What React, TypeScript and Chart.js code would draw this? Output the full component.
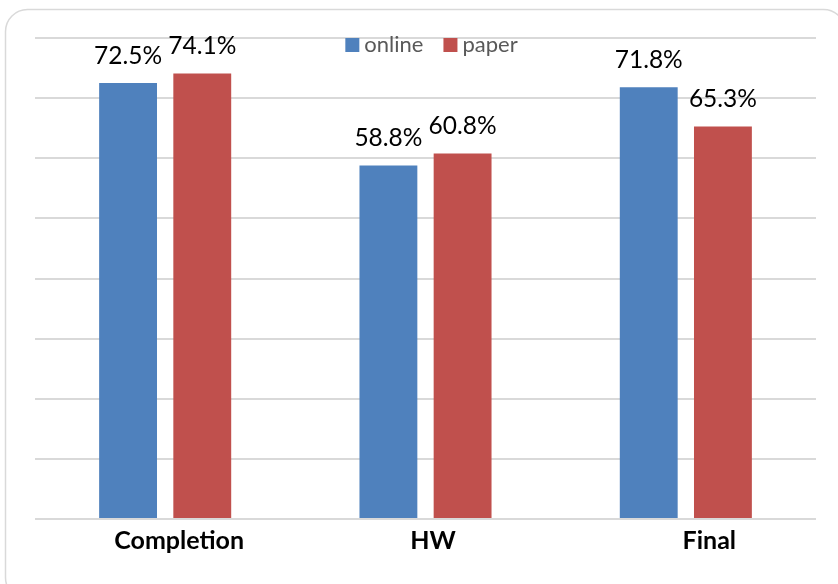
import React, { useEffect, useRef } from "react";
import { Chart, registerables } from "chart.js";

Chart.register(...registerables);

const categories = ["Completion", "HW", "Final"];
const seriesNames = ["online", "paper"];
const onlineValues = [72.5, 58.8, 71.8];
const paperValues = [74.1, 60.8, 65.3];
const seriesColors = ["#4f81bd", "#c0504d"];
const yMin = 0;
const yMax = 80;
const yStep = 10;
const labelOffsets = [14, 7.5, 23.5];

const W = 838;
const H = 584;

const framePlugin = {
  id: "frame",
  beforeDraw(chart: any) {
    const ctx = chart.ctx;
    ctx.save();
    ctx.fillStyle = "#ffffff";
    ctx.fillRect(0, 0, chart.width, chart.height);
    ctx.beginPath();
    ctx.strokeStyle = "#d9d9d9";
    ctx.lineWidth = 1.5;
    ctx.roundRect(5.5, 9.5, 840, 590, 22);
    ctx.stroke();
    ctx.restore();
  },
};

const labelsPlugin = {
  id: "customLabels",
  afterDatasetsDraw(chart: any) {
    const ctx = chart.ctx;
    ctx.save();
    // value labels
    ctx.font = "24.5px Lato";
    ctx.fillStyle = "#000000";
    ctx.textAlign = "center";
    ctx.textBaseline = "alphabetic";
    chart.data.datasets.forEach((ds: any, di: number) => {
      const meta = chart.getDatasetMeta(di);
      meta.data.forEach((bar: any, i: number) => {
        const v = ds.data[i];
        ctx.fillText(v.toFixed(1) + "%", bar.x, bar.y - 19);
      });
    });
    // category labels
    const xs = chart.scales.x;
    ctx.font = "bold 25px Lato";
    chart.data.labels.forEach((lab: string, i: number) => {
      ctx.fillText(lab, xs.getPixelForValue(i) + labelOffsets[i], 549);
    });
    // legend
    ctx.font = "22px Lato";
    ctx.textAlign = "left";
    const box = 14;
    const gap = 5;
    const spacing = 20;
    const widths = chart.data.datasets.map((d: any) => ctx.measureText(d.label).width);
    let total = 0;
    widths.forEach((w: number, i: number) => {
      total += box + gap + w + (i < widths.length - 1 ? spacing : 0);
    });
    let x = 431.5 - total / 2;
    chart.data.datasets.forEach((d: any, i: number) => {
      ctx.fillStyle = d.backgroundColor;
      ctx.fillRect(x, 38, box, box);
      x += box + gap;
      ctx.fillStyle = "#595959";
      ctx.fillText(d.label, x, 52);
      x += widths[i] + spacing;
    });
    ctx.restore();
  },
};

export default function App() {
  const ref = useRef<HTMLCanvasElement | null>(null);

  useEffect(() => {
    document.body.style.margin = "0";
    document.body.style.overflow = "hidden";
    let chart: Chart | null = null;
    let cancelled = false;
    const make = () => {
      if (cancelled || !ref.current) return;
      chart = new Chart(ref.current, {
        type: "bar",
        data: {
          labels: categories,
          datasets: [
            {
              label: seriesNames[0],
              data: onlineValues,
              backgroundColor: seriesColors[0],
              categoryPercentage: 0.57,
              barPercentage: 0.78,
            },
            {
              label: seriesNames[1],
              data: paperValues,
              backgroundColor: seriesColors[1],
              categoryPercentage: 0.57,
              barPercentage: 0.78,
            },
          ],
        },
        options: {
          responsive: false,
          animation: false,
          layout: { padding: { left: 35, right: 22, top: 38, bottom: 65 } },
          plugins: {
            legend: { display: false },
            tooltip: { enabled: false },
          },
          scales: {
            x: {
              display: false,
            },
            y: {
              min: yMin,
              max: yMax,
              ticks: { display: false, stepSize: yStep },
              border: { display: false },
              grid: { color: "#d9d9d9", lineWidth: 2, drawTicks: false },
            },
          },
        },
        plugins: [framePlugin, labelsPlugin],
      });
    };
    Promise.all([
      document.fonts.load("24.5px Lato"),
      document.fonts.load("bold 25px Lato"),
      document.fonts.load("22px Lato"),
    ])
      .catch(() => null)
      .then(make);
    return () => {
      cancelled = true;
      if (chart) chart.destroy();
    };
  }, []);

  return <canvas ref={ref} width={W} height={H} style={{ display: "block", width: W, height: H }} />;
}
